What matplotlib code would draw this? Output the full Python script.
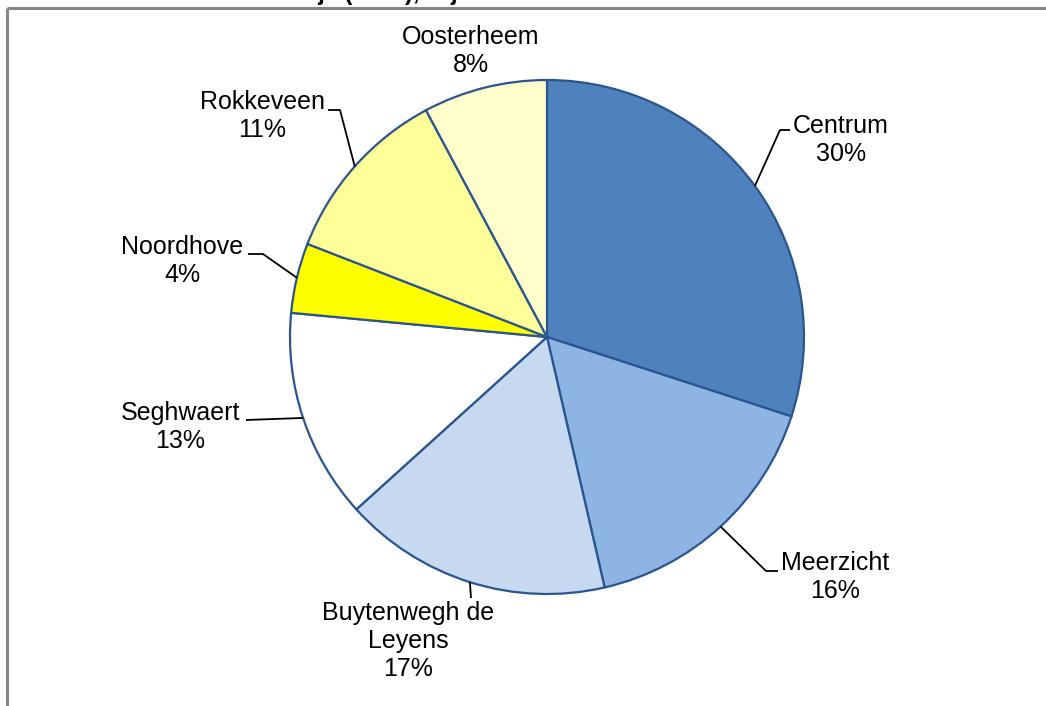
import numpy as np
import matplotlib.pyplot as plt

plt.rcParams['font.family'] = ['Liberation Sans', 'DejaVu Sans']

# --- Data --- #
wijken = ['Centrum', 'Meerzicht', 'Buytenwegh de\nLeyens', 'Seghwaert',
          'Noordhove', 'Rokkeveen', 'Oosterheem']
aandeel = [30.0, 16.4, 16.9, 13.2, 4.4, 11.3, 7.8]
kleuren = ['#4F81BD', '#8EB4E3', '#C6D9F1', '#FFFFFF',
           '#FFFF00', '#FFFF99', '#FFFFCC']

W, H = 1046, 706
fig = plt.figure(figsize=(W / 100, H / 100), dpi=100)
ax = fig.add_axes([0, 0, 1, 1])

cx, cy, r = 547, H - 337, 257

wedges, _ = ax.pie(aandeel, colors=kleuren, startangle=90, counterclock=False,
                   center=(cx, cy), radius=r, frame=True,
                   wedgeprops=dict(edgecolor='#2A5590', linewidth=1.6))
ax.set_xlim(0, W)
ax.set_ylim(0, H)
ax.set_aspect('equal')
ax.axis('off')

# label centre (px from top-left) and leader path (elbow, end) per slice
label_pos = [(841, 140), (835, 577), (408, 641), (180, 427),
             (182, 261), (262, 116), (471, 51)]
leaders = [[(780, 130), (790, 130)],
           [(766, 571), (778, 571)],
           [(471, 598)],
           [(246, 420)],
           [(263, 254), (248, 254)],
           [(340, 110), (328, 110)],
           None]

for w, naam, pct, (lx, ly), lead in zip(wedges, wijken, aandeel, label_pos, leaders):
    ax.text(lx, H - ly, '{}\n{:.0f}%'.format(naam, pct), ha='center', va='center',
            fontsize=18, linespacing=1.2, color='black')
    if lead is None:
        continue
    mid = np.deg2rad((w.theta1 + w.theta2) / 2)
    xs = [cx + r * np.cos(mid)] + [p[0] for p in lead]
    ys = [cy + r * np.sin(mid)] + [H - p[1] for p in lead]
    ax.plot(xs, ys, color='black', lw=1.3, solid_capstyle='butt')

# chart area border (cropped)
ax.plot([7, W], [H - 8, H - 8], color='#868686', lw=2.2, solid_capstyle='butt')
ax.plot([7, 7], [H - 8, 0], color='#868686', lw=2.2, solid_capstyle='butt')

# title, mostly cut off at the top edge (as in the source image)
fig.text(0.12, 1.0, 'Inwoners naar wijk (2010), wijk', fontsize=17, fontweight='bold',
         ha='left', va='baseline', transform=fig.transFigure)

fig.savefig('out.png', dpi=100)
